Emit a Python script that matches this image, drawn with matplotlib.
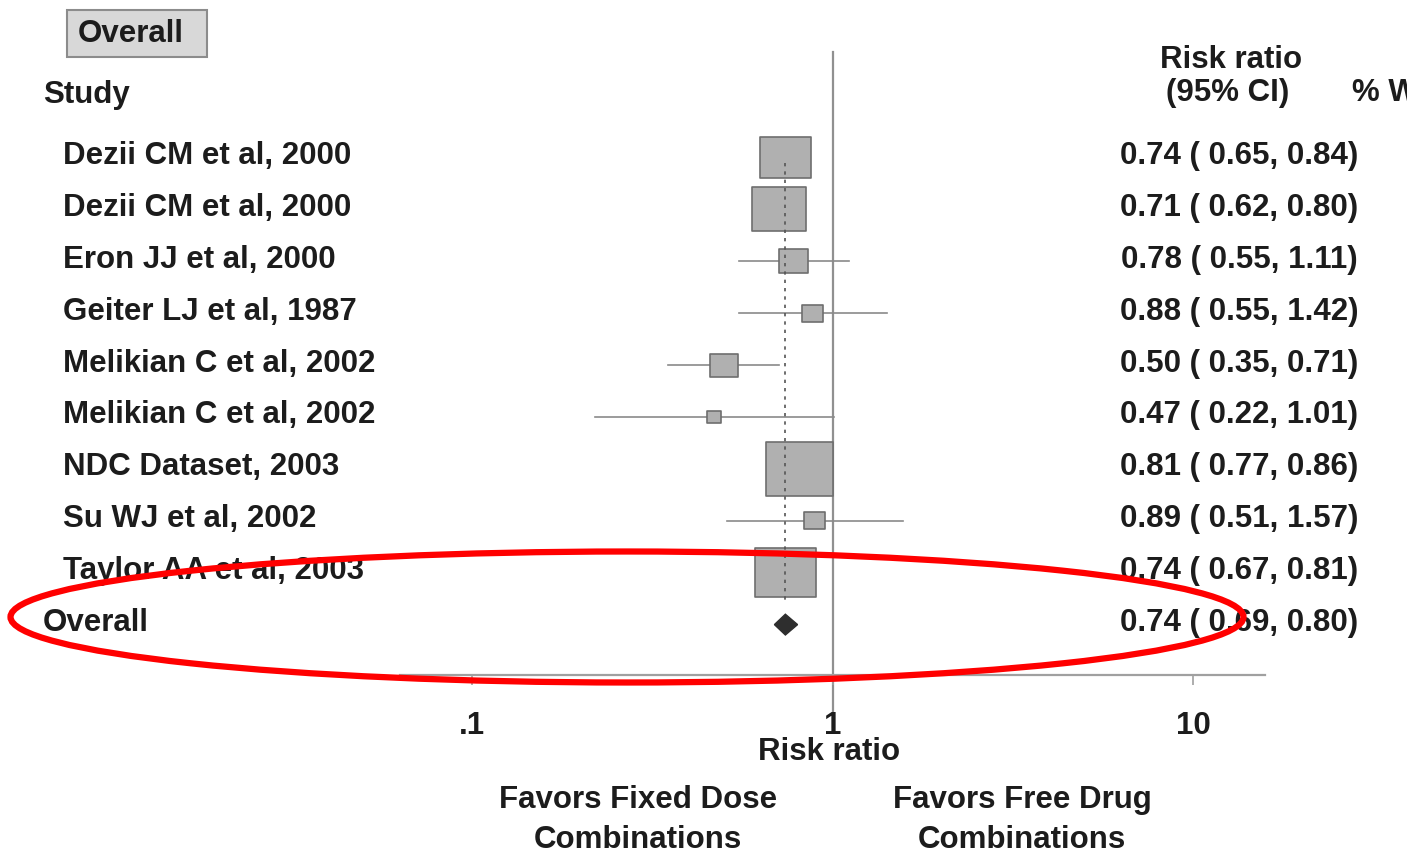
#forest plot: fixed dose vs free drug combinations

import matplotlib
matplotlib.use("Agg")
import matplotlib.pyplot as plt
from matplotlib.patches import Ellipse, Polygon, Rectangle
from matplotlib.path import Path
import matplotlib.transforms as mtransforms
import numpy as np

########################

#data

studies = ["Dezii CM et al, 2000", "Dezii CM et al, 2000", "Eron JJ et al, 2000",
           "Geiter LJ et al, 1987", "Melikian C et al, 2002", "Melikian C et al, 2002",
           "NDC Dataset, 2003", "Su WJ et al, 2002", "Taylor AA et al, 2003"]
rr = [0.74, 0.71, 0.78, 0.88, 0.50, 0.47, 0.81, 0.89, 0.74]
ci_low = [0.65, 0.62, 0.55, 0.55, 0.35, 0.22, 0.77, 0.51, 0.67]
ci_high = [0.84, 0.80, 1.11, 1.42, 0.71, 1.01, 0.86, 1.57, 0.81]
weights = [16.0, 18.0, 5.4, 2.7, 4.9, 1.2, 26.6, 2.7, 22.5]
overall = [0.74, 0.69, 0.80]
xticks = [0.1, 1, 10]
xticklabels = [".1", "1", "10"]

########################

plt.rcParams['font.family'] = ['Liberation Sans', 'DejaVu Sans']
plt.rcParams['font.weight'] = 'bold'
W, H = 1407, 852
fs = 22.5
tc = "#1c1c1c"
fig = plt.figure(figsize=(W / 100, H / 100), dpi=100)

def fy(py):
    return 1 - py / H

def fx(px):
    return px / W

# axes: x from pixel 400 to 1265, y from pixel 52 to 675
row0, step = 157.5, 51.9
ax = fig.add_axes([fx(400), fy(675), fx(1265) - fx(400), (675 - 52) / H])
ax.set_xscale("log")
ax.set_xlim(10 ** -1.2, 10 ** 1.2)
ax.set_ylim((675 - row0) / step, (52 - row0) / step)

grey = "#a0a0a0"
for s in ["top", "left", "right"]:
    ax.spines[s].set_visible(False)
ax.spines["bottom"].set_color(grey)
ax.spines["bottom"].set_linewidth(1.6)
ax.set_yticks([])
ax.set_xticks(xticks)
ax.set_xticklabels(xticklabels, fontsize=fs, color=tc)
ax.minorticks_off()
ax.tick_params(axis="x", direction="out", length=7, width=1.2, color=grey, pad=19)

n = len(studies)
ypos = np.arange(n)

# null line
ax.plot([1, 1], [ax.get_ylim()[1], (727 - row0) / step], color="#909090", lw=1.6,
        clip_on=False, zorder=1)
# overall dashed line
ax.plot([overall[0], overall[0]], [0.1, n - 0.4], color="#555555", lw=1.2,
        ls=(0, (2, 3)), zorder=3)

# CI lines
for i in range(n):
    ax.plot([ci_low[i], ci_high[i]], [ypos[i], ypos[i]], color="#8a8a8a", lw=1.2, zorder=2)

# boxes, area ~ weight
rect = Path([(-0.62, -0.5), (0.62, -0.5), (0.62, 0.5), (-0.62, 0.5), (-0.62, -0.5)],
            [Path.MOVETO, Path.LINETO, Path.LINETO, Path.LINETO, Path.CLOSEPOLY])
ax.scatter(rr, ypos, s=[85 * w for w in weights], marker=rect, facecolor="#b0b0b0",
           edgecolor="#6e6e6e", linewidth=1.2, zorder=2)

# overall diamond
yo = n
ax.add_patch(Polygon([(overall[1], yo), (overall[0], yo - 0.2), (overall[2], yo),
                      (overall[0], yo + 0.2)], closed=True, facecolor="#2e2e2e",
                     edgecolor="#2e2e2e", zorder=4))

# text columns (text sits slightly above the box centres)
tr = mtransforms.blended_transform_factory(fig.transFigure, ax.transData)
ty = ypos - 0.03
for i in range(n):
    ax.text(fx(63), ty[i], studies[i], transform=tr, fontsize=fs, va="center", ha="left",
            color=tc)
    ax.text(fx(1358), ty[i], "%.2f ( %.2f, %.2f)" % (rr[i], ci_low[i], ci_high[i]),
            transform=tr, fontsize=fs, va="center", ha="right", color=tc)
ax.text(fx(43), yo - 0.03, "Overall", transform=tr, fontsize=fs, va="center", ha="left", color=tc)
ax.text(fx(1358), yo - 0.03, "%.2f ( %.2f, %.2f)" % tuple(overall), transform=tr, fontsize=fs,
        va="center", ha="right", color=tc)

# headers
fig.text(fx(43), fy(95), "Study", fontsize=fs, va="center", ha="left", color=tc)
fig.text(fx(1231), fy(60), "Risk ratio", fontsize=fs, va="center", ha="center", color=tc)
fig.text(fx(1228), fy(93), "(95% CI)", fontsize=fs, va="center", ha="center", color=tc)
fig.text(fx(1352), fy(93), "% Weight", fontsize=fs, va="center", ha="left", color=tc)
fig.patches.append(Rectangle((fx(67), fy(57)), fx(207) - fx(67), (57 - 10) / H,
                             transform=fig.transFigure, facecolor="#d8d8d8",
                             edgecolor="#8c8c8c", lw=1.5))
fig.text(fx(78), fy(34), "Overall", fontsize=fs, va="center", ha="left", color=tc)

# bottom labels
fig.text(fx(829), fy(752), "Risk ratio", fontsize=fs, va="center", ha="center", color=tc)
fig.text(fx(638), fy(820), "Favors Fixed Dose\nCombinations", fontsize=fs, va="center",
         ha="center", color=tc, linespacing=1.4)
fig.text(fx(1022), fy(820), "Favors Free Drug\nCombinations", fontsize=fs, va="center",
         ha="center", color=tc, linespacing=1.4)

# red annotation ellipse
fig.patches.append(Ellipse((627 / 100, (H - 617) / 100), 12.33, 1.31, angle=0,
                           transform=fig.dpi_scale_trans, fill=False, edgecolor="#ff0000",
                           lw=4.5, zorder=10))

fig.savefig("out.png", dpi=100)
